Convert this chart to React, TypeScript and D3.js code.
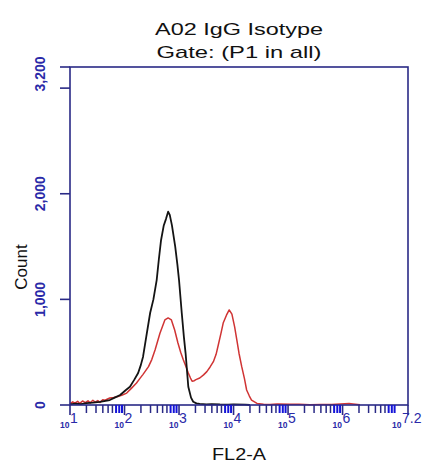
import React from "react";
import * as d3 from "d3";

const titleLines = ["A02 IgG Isotype", "Gate: (P1 in all)"];
const xLabel = "FL2-A";
const yLabel = "Count";
const yTicks = [0, 1000, 2000, 3000];
const yLabelValues = [0, 1000, 2000, 3200];
const xDecades = [1, 2, 3, 4, 5, 6];
const xLabelExps = ["1", "2", "3", "4", "5", "6", "7.2"];
const xLabelPos = [1, 2, 3, 4, 5, 6, 7.2];

// log10(FL2-A) and counts
const blackLog = [1.0, 1.1, 1.2, 1.3, 1.42, 1.55, 1.73, 1.82, 1.92, 2.02, 2.1, 2.18, 2.25, 2.3, 2.34, 2.4, 2.47, 2.53, 2.59, 2.63, 2.67, 2.72, 2.76, 2.8, 2.83, 2.87, 2.93, 2.97, 3.0, 3.05, 3.09, 3.12, 3.17, 3.22, 3.26, 3.32, 3.38, 3.5, 3.6, 3.75, 3.9, 4.0, 4.21, 4.3];
const blackCount = [5, 12, 8, 18, 22, 30, 47, 70, 95, 140, 173, 240, 303, 380, 457, 650, 871, 1000, 1183, 1380, 1560, 1700, 1760, 1830, 1800, 1700, 1499, 1330, 1183, 871, 640, 492, 173, 70, 31, 15, 10, 6, 8, 5, 4, 6, 3, 0];

const redLog = [1.0, 1.05, 1.09, 1.14, 1.18, 1.23, 1.28, 1.33, 1.37, 1.42, 1.46, 1.51, 1.55, 1.6, 1.64, 1.73, 1.8, 1.88, 1.96, 2.04, 2.13, 2.22, 2.28, 2.34, 2.44, 2.5, 2.56, 2.65, 2.74, 2.8, 2.86, 2.92, 2.98, 3.03, 3.08, 3.13, 3.17, 3.21, 3.24, 3.28, 3.31, 3.38, 3.45, 3.51, 3.57, 3.63, 3.68, 3.72, 3.77, 3.81, 3.87, 3.92, 3.97, 4.02, 4.06, 4.1, 4.15, 4.2, 4.24, 4.29, 4.33, 4.43, 4.55, 4.67, 4.8, 5.03, 5.2, 5.4, 5.6, 5.8, 6.04, 6.12, 6.19, 6.32];
const redCount = [10, 30, 18, 35, 15, 38, 22, 40, 20, 45, 28, 42, 25, 50, 45, 66, 72, 80, 95, 113, 160, 208, 250, 290, 363, 430, 520, 680, 805, 824, 805, 710, 587, 500, 426, 360, 303, 255, 225, 230, 240, 256, 285, 316, 360, 410, 480, 568, 680, 776, 850, 900, 860, 740, 616, 490, 363, 250, 142, 85, 47, 15, 8, 5, 10, 8, 6, 3, 5, 4, 12, 14, 10, 2];

const W = 430;
const H = 463;
const left = 70;
const right = 408;
const top = 67;
const bottom = 405;
const navy = "#2a2a86";
const tickBlue = "#1414d8";
const labelBlue = "#2a2aa8";
const font = "Liberation Sans, Arial, sans-serif";

export default function App() {
  const x = d3.scaleLinear().domain([1, 7.2]).range([left, right]);
  const y = d3.scaleLinear().domain([0, 3200]).range([bottom, top]);

  const mkLine = d3
    .line<[number, number]>()
    .x((d) => x(d[0]))
    .y((d) => y(d[1]));
  const blackPath = mkLine(blackLog.map((v, i) => [v, blackCount[i]] as [number, number]));
  const redPath = mkLine(redLog.map((v, i) => [v, redCount[i]] as [number, number]));

  const minorTicks: { v: number; m: number }[] = [];
  xDecades.forEach((dd) => {
    for (let m = 2; m <= 9; m++) {
      const v = dd + Math.log10(m);
      if (v <= 7.2) minorTicks.push({ v, m });
    }
  });

  return (
    <svg
      width={W}
      height={H}
      style={{ position: "absolute", left: 0, top: 0, background: "#fff" }}
      fontFamily={font}
    >
      {/* title */}
      {titleLines.map((t, i) => (
        <text
          key={t}
          x={(left + right) / 2}
          y={35 + i * 23}
          textAnchor="middle"
          fontSize={17}
          fill="#111"
          textLength={i === 0 ? 168 : 165}
          lengthAdjust="spacingAndGlyphs"
        >
          {t}
        </text>
      ))}

      {/* curves */}
      <path d={redPath || ""} fill="none" stroke="#d03434" strokeWidth={1.5} strokeLinejoin="round" />
      <path d={blackPath || ""} fill="none" stroke="#141414" strokeWidth={1.8} strokeLinejoin="round" />

      {/* frame */}
      <rect x={left} y={top} width={right - left} height={bottom - top} fill="none" stroke={navy} strokeWidth={1.6} />

      {/* y ticks */}
      {[...yTicks, 3200].map((v) => (
        <line key={"yt" + v} x1={left - 10} x2={left} y1={y(v)} y2={y(v)} stroke={navy} strokeWidth={1.6} />
      ))}
      {yLabelValues.map((v) => (
        <text
          key={"yl" + v}
          transform={`translate(45, ${Math.max(y(v), top + 7)}) rotate(-90)`}
          textAnchor="middle"
          fontSize={14}
          fontWeight="bold"
          fill={labelBlue}
        >
          {d3.format(",")(v)}
        </text>
      ))}

      {/* x ticks */}
      {[...xDecades, 7.2].map((v) => (
        <line key={"xt" + v} x1={x(v)} x2={x(v)} y1={bottom} y2={bottom + 10} stroke={navy} strokeWidth={1.6} />
      ))}
      {minorTicks.map((t) => (
        <line
          key={"xm" + t.v}
          x1={x(t.v)}
          x2={x(t.v)}
          y1={bottom}
          y2={bottom + 8}
          stroke={t.m >= 7 ? tickBlue : navy}
          strokeWidth={t.m >= 7 ? 2 : 1.5}
        />
      ))}
      {xLabelPos.map((v, i) => {
        const px = x(v) - (i === xLabelPos.length - 1 ? 6 : 0);
        return (
          <g key={"xl" + v}>
            <text x={px - 0.5} y={428} textAnchor="end" fontSize={8.5} fontWeight="bold" fill={labelBlue}>
              10
            </text>
            <text x={px} y={423} textAnchor="start" fontSize={14} fill={labelBlue}>
              {xLabelExps[i]}
            </text>
          </g>
        );
      })}

      {/* axis labels */}
      <text x={(left + right) / 2} y={460} textAnchor="middle" fontSize={17} fill="#111" textLength={54} lengthAdjust="spacingAndGlyphs">
        {xLabel}
      </text>
      <text transform="translate(27, 267) rotate(-90)" textAnchor="middle" fontSize={17} fill="#111">
        {yLabel}
      </text>
    </svg>
  );
}
